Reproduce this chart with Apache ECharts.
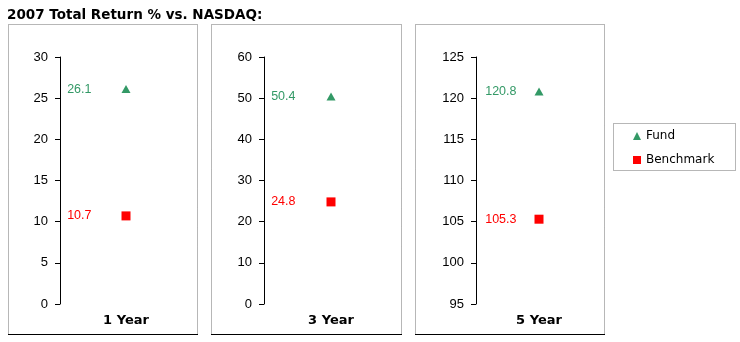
<!DOCTYPE html>
<html>
<head>
<meta charset="utf-8">
<script src="https://cdn.jsdelivr.net/npm/echarts@6/dist/echarts.min.js"></script>
<style>
html,body{margin:0;padding:0;background:#fff;}
#c{width:740px;height:342px;}
</style>
</head>
<body>
<div id="c"></div>
<script>
const title = '2007 Total Return % vs. NASDAQ:';
const categories = ['1 Year', '3 Year', '5 Year'];
const fund = [26.1, 50.4, 120.8];
const benchmark = [10.7, 24.8, 105.3];
const yMin = [0, 0, 95];
const yMax = [30, 60, 125];
const yStep = [5, 10, 5];

const GREEN = '#339966';
const RED = '#FF0000';
const NUMFONT = '"Liberation Sans", Arial, sans-serif';

const panels = [
  {x: 8, w: 189, gl: 60, gw: 132, dist: 30},
  {x: 211, w: 190, gl: 264, gw: 134, dist: 31},
  {x: 415, w: 189, gl: 476, gw: 126, dist: 18}
];
const panelTop = 24, panelBottom = 334;

const grids = [], xAxes = [], yAxes = [], series = [], graphics = [];
categories.forEach((cat, i) => {
  const p = panels[i];
  grids.push({left: p.gl, width: p.gw, top: 57, height: 247});
  xAxes.push({
    type: 'category', gridIndex: i, data: [cat],
    axisLine: {show: false}, axisTick: {show: false},
    axisLabel: {color: '#000', fontFamily: 'DejaVu Sans', fontWeight: 'bold', fontSize: 13, margin: 10}
  });
  yAxes.push({
    type: 'value', gridIndex: i, min: yMin[i], max: yMax[i], interval: yStep[i],
    splitLine: {show: false},
    axisLine: {show: true, lineStyle: {color: '#000', width: 1}},
    axisTick: {show: true, length: 5, lineStyle: {color: '#000'}},
    axisLabel: {color: '#000', fontFamily: NUMFONT, fontSize: 13, margin: 12}
  });
  series.push({
    name: 'Fund', type: 'scatter', xAxisIndex: i, yAxisIndex: i,
    symbol: 'triangle', symbolSize: [9, 8],
    itemStyle: {color: GREEN, opacity: 1},
    emphasis: {disabled: true},
    label: {show: true, position: 'left', distance: p.dist, color: GREEN,
      fontFamily: NUMFONT, fontSize: 12.5, formatter: q => q.value.toFixed(1)},
    data: [fund[i]]
  });
  series.push({
    name: 'Benchmark', type: 'scatter', xAxisIndex: i, yAxisIndex: i,
    symbol: 'rect', symbolSize: 9,
    itemStyle: {color: RED, opacity: 1},
    emphasis: {disabled: true},
    label: {show: true, position: 'left', distance: p.dist, color: RED,
      fontFamily: NUMFONT, fontSize: 12.5, formatter: q => q.value.toFixed(1)},
    data: [benchmark[i]]
  });
  graphics.push({
    type: 'rect', silent: true, z: -1,
    shape: {x: p.x + 0.5, y: panelTop + 0.5, width: p.w, height: panelBottom - panelTop},
    style: {fill: '#fff', stroke: '#6e6e6e', lineWidth: 1, lineDash: [1, 1]}
  });
  graphics.push({
    type: 'line', silent: true, z: 0,
    shape: {x1: p.x, y1: panelBottom + 0.5, x2: p.x + p.w + 1, y2: panelBottom + 0.5},
    style: {stroke: '#000', lineWidth: 1}
  });
});

graphics.push({
  type: 'rect', silent: true, z: -1,
  shape: {x: 613.5, y: 123.5, width: 122, height: 47},
  style: {fill: '#fff', stroke: '#6e6e6e', lineWidth: 1, lineDash: [1, 1]}
});

const chart = echarts.init(document.getElementById('c'), null, {renderer: 'canvas'});
chart.setOption({
  backgroundColor: '#fff',
  animation: false,
  title: {
    text: title, left: 2, top: 3,
    textStyle: {fontFamily: 'DejaVu Sans', fontWeight: 'bold', fontSize: 13.5, color: '#000'}
  },
  legend: {
    orient: 'vertical', left: 613, top: 123,
    padding: [6, 10, 5, 20], itemGap: 10, itemWidth: 8, itemHeight: 8,
    textStyle: {fontFamily: 'DejaVu Sans', fontSize: 12, color: '#000', lineHeight: 14},
    data: [{name: 'Fund', icon: 'triangle'}, {name: 'Benchmark', icon: 'rect'}]
  },
  grid: grids,
  xAxis: xAxes,
  yAxis: yAxes,
  series: series,
  graphic: graphics
});
</script>
</body>
</html>
